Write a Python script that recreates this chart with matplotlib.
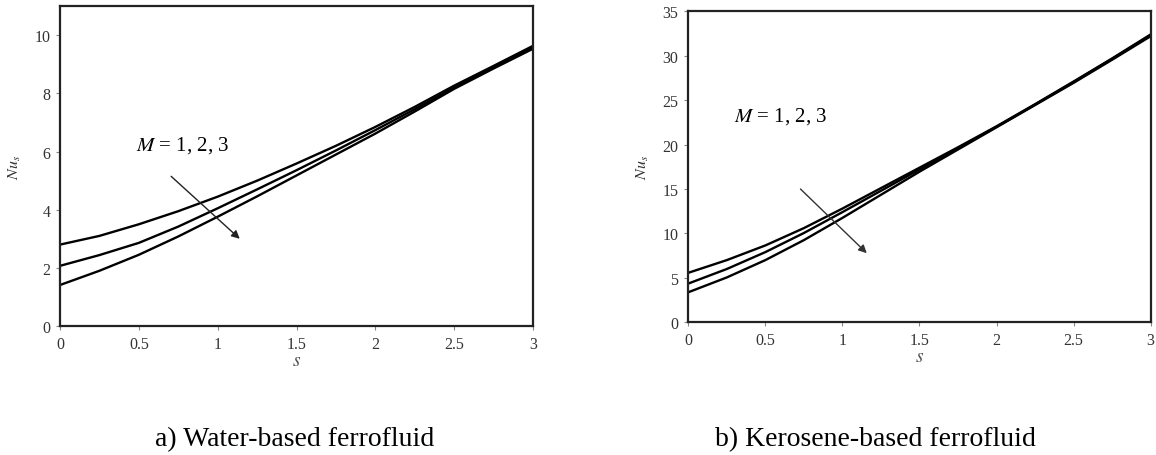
import matplotlib
matplotlib.use("Agg")
import matplotlib.pyplot as plt

plt.rcParams['font.family'] = ['Liberation Serif', 'DejaVu Serif']
plt.rcParams['mathtext.fontset'] = 'stix'

# s values
s = [0, 0.25, 0.5, 0.75, 1.0, 1.25, 1.5, 1.75, 2.0, 2.25, 2.5, 2.75, 3.0]

# a) water-based, M = 1, 2, 3
water_m1 = [2.80, 3.10, 3.50, 3.95, 4.45, 5.00, 5.59, 6.20, 6.85, 7.54, 8.27, 8.95, 9.64]
water_m2 = [2.07, 2.44, 2.86, 3.42, 4.05, 4.70, 5.36, 6.04, 6.74, 7.46, 8.20, 8.90, 9.59]
water_m3 = [1.41, 1.90, 2.45, 3.08, 3.76, 4.46, 5.18, 5.90, 6.62, 7.38, 8.16, 8.86, 9.54]

# b) kerosene-based, M = 1, 2, 3
kero_m1 = [5.57, 7.00, 8.65, 10.60, 12.80, 15.10, 17.40, 19.70, 22.06, 24.55, 27.10, 29.70, 32.40]
kero_m2 = [4.36, 6.00, 7.90, 10.05, 12.40, 14.80, 17.20, 19.60, 22.00, 24.50, 27.05, 29.65, 32.30]
kero_m3 = [3.38, 5.05, 7.00, 9.25, 11.75, 14.35, 16.95, 19.45, 21.95, 24.45, 26.95, 29.55, 32.20]

xticks = [0, 0.5, 1, 1.5, 2, 2.5, 3]
xticklabels = ['0', '0.5', '1', '1.5', '2', '2.5', '3']
water_yticks = [0, 2, 4, 6, 8, 10]
kero_yticks = [0, 5, 10, 15, 20, 25, 30, 35]

fig = plt.figure(figsize=(11.56, 4.56), dpi=100)
ax1 = fig.add_axes([0.0519, 0.2829, 0.4092, 0.7011])
ax2 = fig.add_axes([0.5954, 0.2910, 0.4000, 0.6820])


def style(ax, yticks, ymax):
    ax.set_xlim(0, 3)
    ax.set_ylim(0, ymax)
    ax.set_xticks(xticks)
    ax.set_xticklabels(xticklabels)
    ax.set_yticks(yticks)
    ax.tick_params(direction='out', length=3, width=0.8, colors='#888',
                   labelcolor='#333', labelsize=11.5, pad=4)
    for sp in ax.spines.values():
        sp.set_linewidth(1.6)
        sp.set_color('#222')
    ax.set_xlabel('$s$', fontsize=14, color='#555', labelpad=0)


for y in (water_m1, water_m2, water_m3):
    ax1.plot(s, y, color='black', lw=1.7)
style(ax1, water_yticks, 11)
ax1.set_ylabel('$Nu_s$', fontsize=11.5, color='#333', labelpad=8)
ax1.text(0.48, 6.26, '$M$ = 1, 2, 3', fontsize=15, va='center', ha='left')
ax1.annotate('', xy=(1.14, 3.0), xytext=(0.705, 5.15),
             arrowprops=dict(arrowstyle='-|>', lw=1.0, color='#222',
                             mutation_scale=12, shrinkA=0, shrinkB=0))

for y in (kero_m1, kero_m2, kero_m3):
    ax2.plot(s, y, color='black', lw=1.7)
style(ax2, kero_yticks, 35)
ax2.set_ylabel('$Nu_s$', fontsize=11.5, color='#333', labelpad=8)
ax2.text(0.295, 23.25, '$M$ = 1, 2, 3', fontsize=15, va='center', ha='left')
ax2.annotate('', xy=(1.158, 7.78), xytext=(0.728, 15.0),
             arrowprops=dict(arrowstyle='-|>', lw=1.0, color='#333',
                             mutation_scale=12, shrinkA=0, shrinkB=0))

fig.text(0.255, 0.035, 'a) Water-based ferrofluid', fontsize=20,
         ha='center', va='center')
fig.text(0.757, 0.035, 'b) Kerosene-based ferrofluid', fontsize=20,
         ha='center', va='center')

fig.savefig('out.png', dpi=100)
